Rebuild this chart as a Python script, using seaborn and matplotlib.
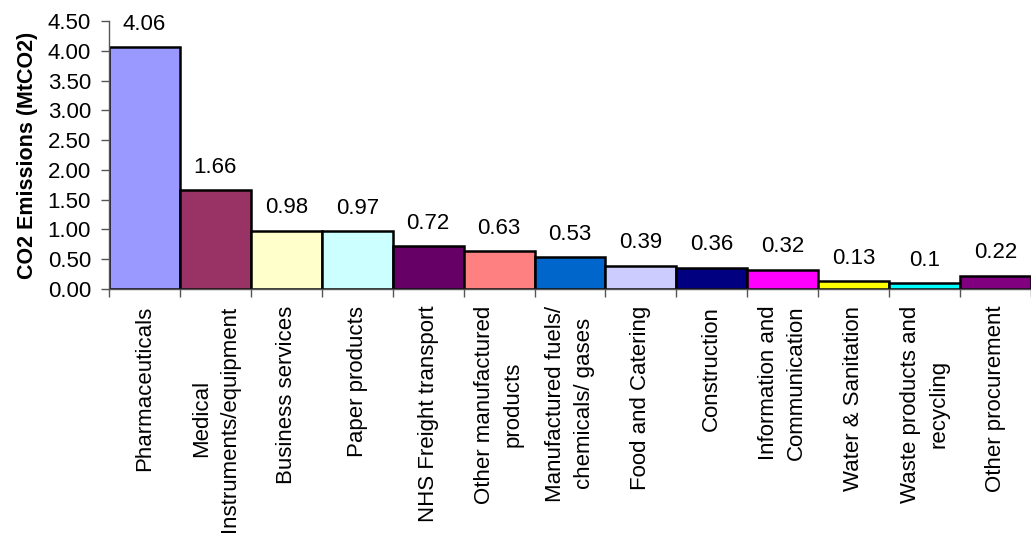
import matplotlib
matplotlib.use("Agg")
import matplotlib.pyplot as plt
import seaborn as sns
import pandas as pd
import numpy as np

categories = [
    "Pharmaceuticals",
    "Medical\nInstruments/equipment",
    "Business services",
    "Paper products",
    "NHS Freight transport",
    "Other manufactured\nproducts",
    "Manufactured fuels/\nchemicals/ gases",
    "Food and Catering",
    "Construction",
    "Information and\nCommunication",
    "Water & Sanitation",
    "Waste products and\nrecycling",
    "Other procurement",
]
emissions = [4.06, 1.66, 0.98, 0.97, 0.72, 0.63, 0.53, 0.39, 0.36, 0.32, 0.13, 0.1, 0.22]
value_labels = ["4.06", "1.66", "0.98", "0.97", "0.72", "0.63", "0.53",
                "0.39", "0.36", "0.32", "0.13", "0.1", "0.22"]
bar_colors = ["#9999FF", "#993366", "#FFFFCC", "#CCFFFF", "#660066", "#FF8080",
              "#0066CC", "#CCCCFF", "#000080", "#FF00FF", "#FFFF00", "#00FFFF",
              "#800080"]
y_ticks = [0.0, 0.5, 1.0, 1.5, 2.0, 2.5, 3.0, 3.5, 4.0, 4.5]

sns.set_theme(style="white")
plt.rcParams["font.family"] = ["Liberation Sans", "DejaVu Sans"]

df = pd.DataFrame({"category": categories, "value": emissions})

fig = plt.figure(figsize=(10.31, 5.35), dpi=100)
ax = fig.add_axes([0.1057, 0.4598, 0.8943, 0.5009])

sns.barplot(data=df, x="category", y="value", hue="category",
            palette=bar_colors, legend=False, width=1.0,
            edgecolor="black", linewidth=1.8, ax=ax, saturation=1)

ax.set_xlim(-0.5, len(categories) - 0.5)
ax.set_ylim(0, 4.5)
ax.set_yticks(y_ticks)
ax.set_yticklabels([f"{t:.2f}" for t in y_ticks], fontsize=16, color="black")

ax.set_xticks(range(len(categories)))
ax.set_xticklabels(categories, rotation=90, fontsize=16, color="black",
                   va="top", ha="center", multialignment="center",
                   linespacing=1.45)
ax.set_xticks(np.arange(-0.5, len(categories) + 0.5, 1.0), minor=True)
ax.tick_params(axis="x", which="major", length=0, pad=12)
ax.tick_params(axis="x", which="minor", length=6, width=1, color="#555555",
               direction="out", bottom=True)
ax.tick_params(axis="y", length=6, width=1, color="#555555", direction="out",
               left=True, pad=7)

for s in ["top", "right"]:
    ax.spines[s].set_visible(False)
for s in ["left", "bottom"]:
    ax.spines[s].set_color("#555555")
    ax.spines[s].set_linewidth(1.0)

ax.set_xlabel("")
ax.set_ylabel("CO2 Emissions (MtCO2)", fontsize=15.5, fontweight="bold",
              color="black", labelpad=7)

for i, (v, lab) in enumerate(zip(emissions, value_labels)):
    ax.annotate(lab, xy=(i, v), xytext=(0, 9), textcoords="offset points",
                ha="center", va="bottom", fontsize=16, color="black",
                annotation_clip=False)

fig.savefig("out.png", dpi=100)
